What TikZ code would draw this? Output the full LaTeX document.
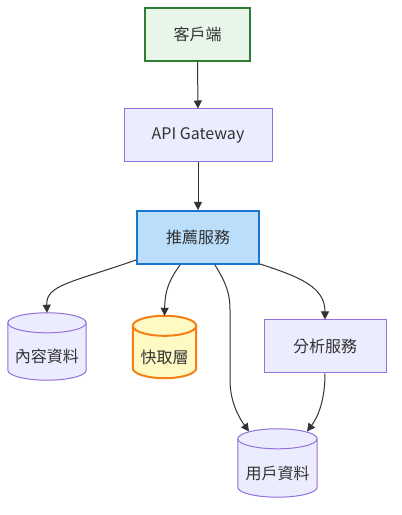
\documentclass[tikz,border=0pt]{standalone}
\usepackage{fontspec}
\setmainfont{Noto Sans CJK TC}
\usetikzlibrary{arrows.meta,calc}
\definecolor{txt}{HTML}{333333}
\definecolor{edge}{HTML}{333333}
\definecolor{pfill}{HTML}{ECECFF}
\definecolor{pdraw}{HTML}{9370DB}
\definecolor{gfill}{HTML}{E8F5E9}
\definecolor{gdraw}{HTML}{2E7D32}
\definecolor{bfill}{HTML}{BBDEFB}
\definecolor{bdraw}{HTML}{1976D2}
\definecolor{yfill}{HTML}{FFF9C4}
\definecolor{ydraw}{HTML}{F57F17}
\newcommand\drawcyl[2]{%
  \path[#2] let \p1=(#1.north west), \p2=(#1.south east) in
    (\x1,\y1-10pt) -- (\x1,\y2+10pt)
    arc[start angle=180,end angle=360,x radius={(\x2-\x1)/2},y radius=10pt]
    -- (\x2,\y1-10pt)
    arc[start angle=0,end angle=180,x radius={(\x2-\x1)/2},y radius=10pt] -- cycle;
  \path[#2,fill=none] let \p1=(#1.north west), \p2=(#1.south east) in
    (\x1,\y1-10pt)
    arc[start angle=180,end angle=360,x radius={(\x2-\x1)/2},y radius=10pt];
}
\tikzset{
  box/.style={rectangle,minimum height=53pt,inner sep=0pt,text=txt,font=\fontsize{16pt}{18pt}\selectfont},
  pbox/.style={box,fill=pfill,draw=pdraw,line width=1pt},
  cylnode/.style={rectangle,inner sep=0pt,draw=none,fill=none},
  cyllabel/.style={text=txt,inner sep=0pt,font=\fontsize{16pt}{18pt}\selectfont},
  pcyl/.style={fill=pfill,draw=pdraw,line width=1pt},
  ycyl/.style={fill=yfill,draw=ydraw,line width=2pt},
  conn/.style={draw=edge,line width=1pt,-{Triangle[length=8pt,width=8pt]}},
}
\begin{document}
\begin{tikzpicture}[x=1pt,y=1pt]
\path[use as bounding box,fill=white] (0,0) rectangle (402,515);

\node[box,fill=gfill,draw=gdraw,line width=2pt,minimum width=105pt] (client) at (197.5,480.5) {客戶端};
\node[pbox,minimum width=148pt] (api) at (198,379.5) {API Gateway};
\node[box,fill=bfill,draw=bdraw,line width=2pt,minimum width=122pt] (rec) at (198,277.5) {推薦服務};
\node[pbox,minimum width=122pt] (analysis) at (325,168.5) {分析服務};

\node[cylnode,minimum width=78pt,minimum height=67pt] (content) at (47,168.5) {};
\drawcyl{content}{pcyl}
\node[cyllabel] (contentlbl) at ([yshift=-10pt]content.center) {內容資料};

\node[cylnode,minimum width=63pt,minimum height=62pt] (cache) at (164.5,168) {};
\drawcyl{cache}{ycyl}
\node[cyllabel] (cachelbl) at ([yshift=-10pt]cache.center) {快取層};

\node[cylnode,minimum width=79pt,minimum height=68pt] (user) at (277.5,52) {};
\drawcyl{user}{pcyl}
\node[cyllabel] (userlbl) at ([yshift=-10pt]user.center) {用戶資料};

\coordinate (userL) at (249,83.5);
\coordinate (userR) at (307,83.5);

\draw[conn] (client) -- (api);
\draw[conn] (api) -- (rec);
\draw[conn] ([yshift=5pt]rec.south west) .. controls (70,232) and (46,230) .. (content.north);
\draw[conn] ([xshift=-18pt]rec.south) .. controls (170,236) and (165,226) .. (cache.north);
\draw[conn] ([xshift=17pt]rec.south) .. controls (226,232) and (230,222) .. (230,205) -- (230,135) .. controls (230,112) and (240,96) .. (userL);
\draw[conn] ([yshift=1pt]rec.south east) .. controls (300,238) and (325,228) .. (analysis.north);
\draw[conn] (analysis.south) .. controls (325,115) and (318,98) .. (userR);
\end{tikzpicture}
\end{document}
